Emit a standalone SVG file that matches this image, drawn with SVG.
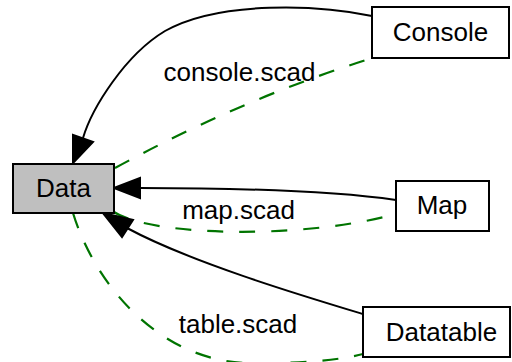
<svg xmlns="http://www.w3.org/2000/svg" width="512" height="362" viewBox="0 0 512 362">
<style>
  .node rect { stroke: #000; stroke-width: 2; fill: #fff; }
  .node.data rect { fill: #bfbfbf; }
  text { font-family: "Liberation Sans", Arial, sans-serif; font-size: 26px; fill: #000; text-anchor: middle; }
  .solid { fill: none; stroke: #000; stroke-width: 2; }
  .dash { fill: none; stroke: #007400; stroke-width: 2.2; stroke-dasharray: 16,16; }
  .head { fill: #000; stroke: #000; stroke-width: 2; stroke-linejoin: miter; }
</style>
<rect width="512" height="362" fill="#fff"/>
<g id="connectors">
  <g id="console-data">
    <path class="solid" d="M372,16 C320,5 220,0 165,31 C125,55 92,108 83,138"/>
    <polygon class="head" points="73,163 73,135 93,142"/>
  </g>
  <g id="data-console">
    <path class="dash" d="M115,168 Q240,100 366,60"/>
    <text x="239.5" y="81">console.scad</text>
  </g>
  <g id="map-data">
    <path class="solid" d="M396,200 C340,192 250,188 140,188"/>
    <polygon class="head" points="114,188 140,178 140,198"/>
  </g>
  <g id="data-map">
    <path class="dash" d="M114,212 C150,236 300,240 396,214"/>
    <text x="238.5" y="219">map.scad</text>
  </g>
  <g id="datatable-data">
    <path class="solid" d="M363,314 C300,295 190,262 127,228"/>
    <polygon class="head" points="103,213 133,220 122,237"/>
  </g>
  <g id="data-datatable">
    <path class="dash" d="M73,213 C95,285 160,362 250,363 C300,364 340,360 363,354"/>
    <text x="238" y="333">table.scad</text>
  </g>
</g>
<g id="node-data" class="node data">
  <rect x="13" y="164" width="101" height="49"/>
  <text x="63.5" y="197">Data</text>
</g>
<g id="node-console" class="node">
  <rect x="372" y="7" width="137" height="51"/>
  <text x="440.5" y="41">Console</text>
</g>
<g id="node-map" class="node">
  <rect x="396" y="181" width="93" height="50"/>
  <text x="442" y="214">Map</text>
</g>
<g id="node-datatable" class="node">
  <rect x="363" y="307" width="147" height="50"/>
  <text x="441.5" y="341">Datatable</text>
</g>
</svg>
